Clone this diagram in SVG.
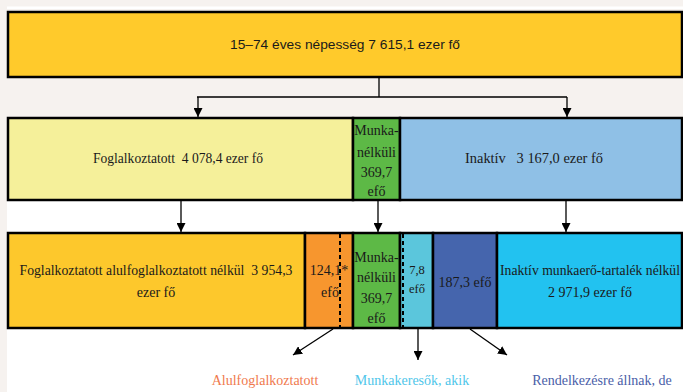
<svg xmlns="http://www.w3.org/2000/svg" width="683" height="392" viewBox="0 0 683 392">
<defs>
<style>
.box{stroke:#000;stroke-width:2.5}
.div{stroke:#000;stroke-width:2}
.ser{font-family:"Liberation Serif","Times New Roman",serif;font-size:14px;fill:#1a1a1a;text-anchor:middle;white-space:pre}
.san{font-family:"Liberation Sans",Arial,sans-serif;font-size:13px;fill:#1a1a1a;text-anchor:middle}
.con{stroke:#000;stroke-width:1.3;fill:none}
.dash{stroke:#000;stroke-width:2;stroke-dasharray:4,3}
</style>
<marker id="ah" viewBox="0 0 10 10" refX="10" refY="5" markerWidth="9" markerHeight="9" markerUnits="userSpaceOnUse" orient="auto">
<path d="M0,0 L10,5 L0,10 Z" fill="#000"/>
</marker>
</defs>
<rect x="0" y="0" width="683" height="392" fill="#ffffff"/>
<rect x="0" y="0" width="683" height="118" fill="#f6f2ef"/>
<rect x="0" y="0" width="7" height="392" fill="#f6f2ef"/>
<rect x="7" y="6.5" width="676" height="2.5" fill="#ffffff"/>

<g id="n-total">
<rect class="box" x="8" y="12" width="674" height="65" fill="#ffca2b"/>
<text class="san" x="345" y="49" textLength="230" lengthAdjust="spacingAndGlyphs">15–74 éves népesség 7 615,1 ezer fő</text>
</g>

<g id="n-foglalkoztatott">
<rect class="box" x="8" y="118" width="345" height="82" fill="#f5f09a"/>
<text class="ser" x="178" y="163" textLength="170" lengthAdjust="spacingAndGlyphs">Foglalkoztatott  4 078,4 ezer fő</text>
</g>
<g id="n-munkanelkuli">
<rect class="box" x="353" y="118" width="47" height="82" fill="#5db946"/>
<text class="ser" x="376.5" y="135">Munka-</text>
<text class="ser" x="376.5" y="157">nélküli</text>
<text class="ser" x="376.5" y="177">369,7</text>
<text class="ser" x="376.5" y="196">efő</text>
</g>
<g id="n-inaktiv">
<rect class="box" x="400" y="118" width="282" height="82" fill="#8fc0e6"/>
<text class="ser" x="534" y="163" textLength="138" lengthAdjust="spacingAndGlyphs">Inaktív   3 167,0 ezer fő</text>
</g>

<g id="n-fogl-alul-nelkul">
<rect class="box" x="8" y="233" width="297" height="95" fill="#fdc82c"/>
<text class="ser" x="156" y="275" textLength="273" lengthAdjust="spacingAndGlyphs">Foglalkoztatott alulfoglalkoztatott nélkül  3 954,3</text>
<text class="ser" x="156" y="297">ezer fő</text>
</g>
<g id="n-alulfogl">
<rect class="box" x="305" y="233" width="48" height="95" fill="#f7962e"/>
<line class="dash" x1="340" y1="234" x2="340" y2="327"/>
<text class="ser" x="329" y="275">124,1*</text>
<text class="ser" x="330" y="297">efő</text>
</g>
<g id="n-munkanelkuli2">
<rect class="box" x="353" y="233" width="47" height="95" fill="#5db946"/>
<text class="ser" x="376.5" y="262">Munka-</text>
<text class="ser" x="376.5" y="282">nélküli</text>
<text class="ser" x="376.5" y="303">369,7</text>
<text class="ser" x="376.5" y="323">efő</text>
</g>
<g id="n-munkakereso">
<rect class="box" x="400" y="233" width="33" height="95" fill="#5bc6dc"/>
<line class="dash" x1="403" y1="234" x2="403" y2="327"/>
<text class="ser" x="417" y="274" style="font-size:12.5px">7,8</text>
<text class="ser" x="417" y="293" style="font-size:12.5px">efő</text>
</g>
<g id="n-rendelkezesre">
<rect class="box" x="433" y="233" width="64" height="95" fill="#4565ad"/>
<text class="ser" x="465" y="287">187,3 efő</text>
</g>
<g id="n-inaktiv-nelkul">
<rect class="box" x="497" y="233" width="185" height="95" fill="#22c2f0"/>
<text class="ser" x="590" y="275" textLength="180" lengthAdjust="spacingAndGlyphs">Inaktív munkaerő-tartalék nélkül</text>
<text class="ser" x="590" y="297">2 971,9 ezer fő</text>
</g>

<g id="connectors">
<path class="con" d="M379,77 V97 M197,97 H567"/>
<path class="con" d="M198,97 V117" marker-end="url(#ah)"/>
<path class="con" d="M567,97 V117" marker-end="url(#ah)"/>
<path class="con" d="M181,200 V232" marker-end="url(#ah)"/>
<path class="con" d="M378,200 V232" marker-end="url(#ah)"/>
<path class="con" d="M566,200 V232" marker-end="url(#ah)"/>
<path class="con" d="M333,329 L293,355" marker-end="url(#ah)"/>
<path class="con" d="M418,329 V360" marker-end="url(#ah)"/>
<path class="con" d="M470,329 L507,355" marker-end="url(#ah)"/>
</g>

<g id="labels">
<text class="ser" x="265" y="385" style="fill:#f07a4e">Alulfoglalkoztatott</text>
<text class="ser" x="412" y="385" style="fill:#4fc6ea">Munkakeresők, akik</text>
<text class="ser" x="602" y="385" style="fill:#4a5ea8">Rendelkezésre állnak, de</text>
</g>
</svg>
